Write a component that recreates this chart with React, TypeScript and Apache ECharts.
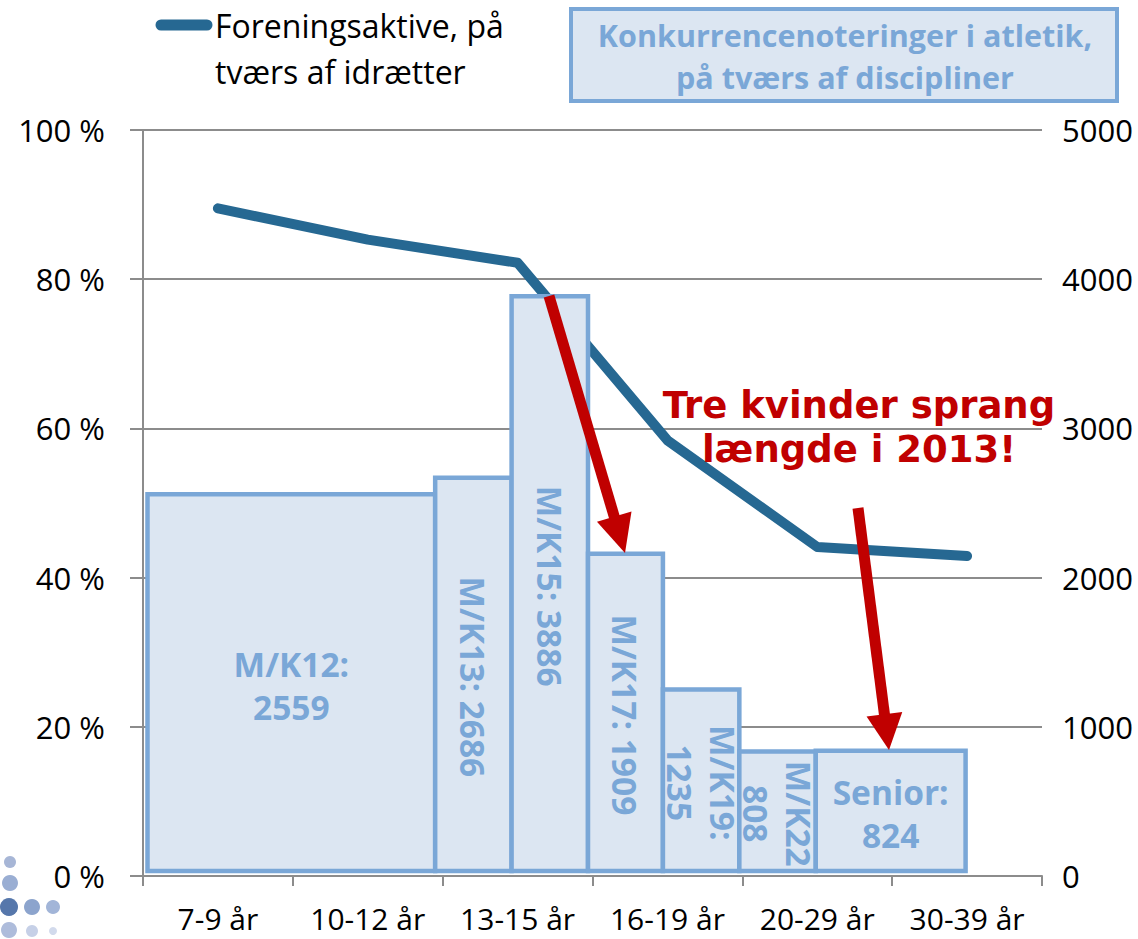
import React, { useEffect, useRef } from "react";
import * as echarts from "echarts";

// ---- data ----
const categories = ["7-9 år", "10-12 år", "13-15 år", "16-19 år", "20-29 år", "30-39 år"];
const activeShare = [89.5, 85.3, 82.2, 58.4, 44.1, 42.9]; // % foreningsaktive
const barLabels = ["M/K12:\n2559", "M/K13: 2686", "M/K15: 3886", "M/K17: 1909", "M/K19:\n1235", "M/K22\n808", "Senior:\n824"];
// bar heights as drawn in the picture (right axis)
const barValues = [2559, 2670, 3886, 2160, 1250, 835, 840];
// bar extents in category units (0 = left edge of "7-9 år", 6 = right edge of "30-39 år")
const barStart = [0.03, 1.95, 2.46, 2.97, 3.47, 3.98, 4.49];
const barEnd = [1.95, 2.46, 2.97, 3.47, 3.98, 4.49, 5.49];
const barVertical = [false, true, true, true, true, true, false];
const lineName = "Foreningsaktive, på tværs af idrætter";
const legendLines = ["Foreningsaktive, på", "tværs af idrætter"];
const boxLines = ["Konkurrencenoteringer i atletik,", "på tværs af discipliner"];
const noteLines = ["Tre kvinder sprang", "længde i 2013!"];

const LINE_COLOR = "#266892";
const BAR_FILL = "#dce6f2";
const BAR_STROKE = "#7aa7d7";
const RED = "#c00000";
const GRID_COLOR = "#8c8c8c";
const FONT = '"Open Sans", "Noto Sans", sans-serif';

function arrow(x1: number, y1: number, x2: number, y2: number, headLen: number, headHalf: number, width: number) {
  const dx = x2 - x1;
  const dy = y2 - y1;
  const len = Math.sqrt(dx * dx + dy * dy);
  const ux = dx / len;
  const uy = dy / len;
  const bx = x2 - ux * headLen;
  const by = y2 - uy * headLen;
  const px = -uy;
  const py = ux;
  return [
    {
      type: "line",
      z: 100,
      shape: { x1, y1, x2: bx + ux * 2, y2: by + uy * 2 },
      style: { stroke: RED, lineWidth: width },
    },
    {
      type: "polygon",
      z: 100,
      shape: {
        points: [
          [bx + px * headHalf, by + py * headHalf],
          [x2, y2],
          [bx - px * headHalf, by - py * headHalf],
        ],
      },
      style: { fill: RED },
    },
  ];
}

export default function App() {
  const ref = useRef<HTMLDivElement>(null);

  useEffect(() => {
    if (!ref.current) return;
    const chart = echarts.init(ref.current, null, { renderer: "svg" });

    const logoDots = [
      { x: 10, y: 862, r: 6, c: "#a7b6d6" },
      { x: 10, y: 883, r: 8, c: "#9aaed3" },
      { x: 9, y: 907, r: 9, c: "#5677ab" },
      { x: 32, y: 907, r: 8, c: "#8ca4cd" },
      { x: 53, y: 907, r: 7, c: "#a2b5d8" },
      { x: 9, y: 930, r: 8, c: "#aebcdb" },
      { x: 32, y: 931, r: 6, c: "#c6d0e7" },
      { x: 53, y: 931, r: 4, c: "#d2daec" },
    ];

    const graphics: any[] = [
      ...logoDots.map((d) => ({
        type: "circle",
        z: 100,
        shape: { cx: d.x, cy: d.y, r: d.r },
        style: { fill: d.c },
      })),
      // legend for line
      {
        type: "line",
        z: 100,
        shape: { x1: 161, y1: 25, x2: 207, y2: 25 },
        style: { stroke: LINE_COLOR, lineWidth: 11, lineCap: "round" },
      },
      ...legendLines.map((t, i) => ({
        type: "text",
        z: 100,
        x: 215,
        y: 25 + i * 46,
        style: { text: t, font: `32px ${FONT}`, fill: "#000", align: "left", verticalAlign: "middle" },
      })),
      // legend box for bars
      {
        type: "rect",
        z: 100,
        shape: { x: 571, y: 9, width: 546, height: 92 },
        style: { fill: BAR_FILL, stroke: BAR_STROKE, lineWidth: 4 },
      },
      ...boxLines.map((t, i) => ({
        type: "text",
        z: 101,
        x: 845,
        y: 35 + i * 42,
        style: { text: t, font: `bold 30.5px ${FONT}`, fill: BAR_STROKE, align: "center", verticalAlign: "middle" },
      })),
      // red note
      ...noteLines.map((t, i) => ({
        type: "text",
        z: 102,
        x: 859,
        y: 405 + i * 44,
        style: { text: t, font: `bold 37px "DejaVu Sans", sans-serif`, fill: RED, align: "center", verticalAlign: "middle" },
      })),
      ...arrow(549, 296, 625, 553, 38, 18, 11),
      ...arrow(858, 508, 889, 750, 36, 18, 11),
    ];

    chart.setOption({
      animation: false,
      backgroundColor: "#fff",
      grid: { left: 143, right: 96, top: 130, bottom: 63, containLabel: false, outerBoundsMode: "none" },
      xAxis: [
        {
          type: "category",
          data: categories,
          boundaryGap: true,
          axisLine: { show: true, lineStyle: { color: GRID_COLOR, width: 2 } },
          axisTick: { show: true, length: 10, lineStyle: { color: GRID_COLOR, width: 2 } },
          axisLabel: { color: "#000", fontSize: 30, fontFamily: FONT, margin: 27, interval: 0 },
        },
        { type: "value", min: 0, max: 6, show: false },
      ],
      yAxis: [
        {
          type: "value",
          min: 0,
          max: 100,
          interval: 20,
          axisLine: { show: true, lineStyle: { color: GRID_COLOR, width: 2 } },
          axisTick: { show: true, length: 13, lineStyle: { color: GRID_COLOR, width: 2 } },
          axisLabel: { color: "#000", fontSize: 31, fontFamily: FONT, margin: 38, formatter: "{value} %" },
          splitLine: { show: true, lineStyle: { color: GRID_COLOR, width: 2 } },
        },
        {
          type: "value",
          min: 0,
          max: 5000,
          interval: 1000,
          position: "right",
          axisLine: { show: false },
          axisTick: { show: false },
          splitLine: { show: false },
          axisLabel: { color: "#000", fontSize: 31, fontFamily: FONT, margin: 20, formatter: (v: number) => String(v) },
        },
      ],
      series: [
        {
          name: lineName,
          type: "line",
          xAxisIndex: 0,
          yAxisIndex: 0,
          data: activeShare,
          symbol: "none",
          z: 2,
          lineStyle: { color: LINE_COLOR, width: 10, cap: "round", join: "round" },
        },
        {
          name: "Konkurrencenoteringer i atletik, på tværs af discipliner",
          type: "custom",
          xAxisIndex: 1,
          yAxisIndex: 1,
          z: 3,
          encode: { x: [0, 1], y: 2 },
          data: barValues.map((v, i) => [barStart[i], barEnd[i], v]),
          renderItem: (params: any, api: any) => {
            const i = params.dataIndex;
            const p0 = api.coord([api.value(0), 0]);
            const p1 = api.coord([api.value(1), api.value(2)]);
            const bottom = p0[1] - 5;
            const x = p0[0];
            const w = p1[0] - p0[0];
            const top = p1[1];
            return {
              type: "group",
              children: [
                {
                  type: "rect",
                  shape: { x, y: top, width: w, height: bottom - top },
                  style: { fill: BAR_FILL, stroke: BAR_STROKE, lineWidth: 4.5 },
                },
                {
                  type: "text",
                  x: x + w / 2,
                  y: (top + p0[1]) / 2,
                  rotation: barVertical[i] ? -Math.PI / 2 : 0,
                  style: {
                    text: barLabels[i],
                    font: `bold 33.5px ${FONT}`,
                    fill: BAR_STROKE,
                    align: "center",
                    verticalAlign: "middle",
                    lineHeight: 43,
                  },
                },
              ],
            };
          },
        },
      ],
      graphic: graphics,
    });

    return () => chart.dispose();
  }, []);

  return (
    <div
      ref={ref}
      style={{ position: "absolute", left: 0, top: 0, width: 1138, height: 939 }}
    />
  );
}
